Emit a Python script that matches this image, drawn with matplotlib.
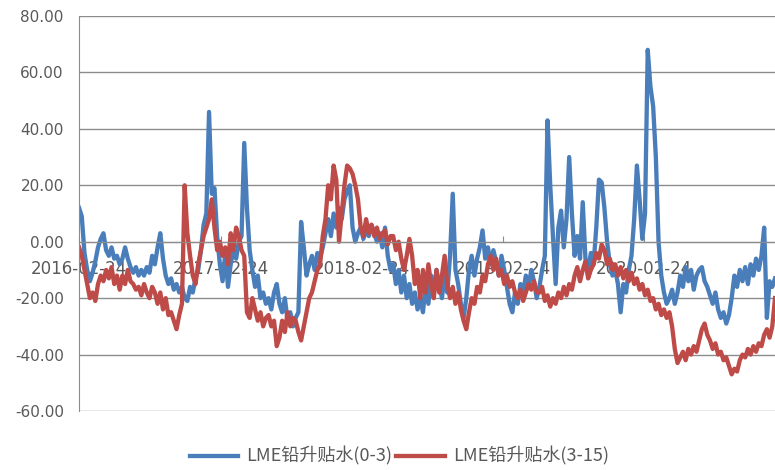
import matplotlib
matplotlib.use('Agg')
import matplotlib.pyplot as plt
from matplotlib.ticker import FormatStrFormatter
import pandas as pd

plt.rcParams['font.family'] = ['DejaVu Sans', 'Noto Sans CJK SC']

# weekly samples, starting 2016-02-24
start_date = '2016-02-24'

spread_0_3 = [
    12, 9, -4, -10, -14, -11, -7, -2, 1, 3,
    -3, -5, -2, -6, -5, -8, -6, -2, -6, -9,
    -11, -9, -12, -10, -12, -9, -11, -5, -8, -2,
    3, -6, -12, -15, -13, -17, -15, -18, -16, -20,
    -21, -16, -18, -13, -10, -3, 6, 10, 46, 17,
    19, 2, -8, -14, -4, -16, -8, -3, -6, 0,
    2, 35, 12, -3, -10, -16, -12, -20, -18, -22,
    -20, -24, -18, -15, -22, -25, -20, -28, -25, -30,
    -27, -25, 7, -2, -12, -8, -5, -10, -4, -6,
    -2, 3, 8, 2, 10, 5, 12, 8, 15, 18,
    20, 5, 0, 3, 5, 1, 4, 2, 6, 3,
    0, 3, -2, 5, -5, -10, -8, -15, -10, -18,
    -12, -20, -15, -22, -18, -24, -20, -25, -15, -22,
    -12, -18, -10, -15, -20, -12, -18, -5, 17, -10,
    -15, -22, -27, -20, -10, -5, -12, -6, -2, 4,
    -6, -2, -8, -3, -7, -12, -5, -10, -16, -22,
    -25, -18, -22, -15, -18, -12, -16, -10, -14, -20,
    -16, -10, -5, 43, 20, 2, -15, 5, 11, -2,
    8, 30, 10, -5, 2, -6, 14, -6, -10, -4,
    -8, 5, 22, 21, 12, 0, -8, -12, -10, -15,
    -25, -15, -18, -10, -5, 8, 27, 15, 1, 10,
    68, 55, 48, 30, 0, -12, -18, -22, -20, -17,
    -22, -18, -12, -16, -9, -14, -10, -17, -12, -10,
    -9, -14, -16, -19, -22, -18, -24, -27, -25, -29,
    -26, -20, -12, -16, -10, -14, -9, -15, -8, -12,
    -6, -10, -5, 5, -27, -14, -16, -13,
]

spread_3_15 = [
    -2, -5, -10, -15, -20, -18, -21, -15, -12, -14,
    -10, -13, -9, -15, -12, -17, -12, -15, -10, -14,
    -15, -17, -16, -19, -15, -18, -20, -16, -18, -22,
    -18, -24, -20, -26, -25, -28, -31, -26, -22, 20,
    3, -5, -12, -15, -8, -3, 2, 5, 8, 15,
    5, -3, 0, -5, -2, -8, 3, -3, 5, 2,
    -3, -5, -25, -27, -20, -24, -28, -25, -30, -27,
    -26, -30, -28, -37, -34, -28, -32, -25, -30, -27,
    -28, -32, -35, -30, -25, -20, -18, -14, -10, -8,
    2, 8, 20, 15, 27, 22, 0, 10, 20, 27,
    26, 24, 20, 15, 5, 2, 8, 3, 6, 2,
    5, 1, 3, 4, -1, 2, 2, -3, 0, -6,
    -10, -5, 1, -5, -15, -10, -20, -10, -18, -8,
    -15, -20, -10, -18, -12, -5, -15, -20, -16, -22,
    -18, -24, -28, -31, -25, -20, -22, -16, -18, -12,
    -14, -8, -5, -10, -6, -12, -10, -15, -12, -16,
    -14, -18, -20, -17, -21, -18, -15, -17, -14, -18,
    -18, -16, -21, -19, -23, -20, -22, -18, -20, -16,
    -19, -15, -17, -12, -9, -14, -10, -7, -13, -10,
    -8, -4, -6, -1, -3, -8, -6, -10, -8, -12,
    -9, -13, -10, -14, -11, -15, -13, -17, -15, -19,
    -17, -21, -20, -24, -22, -26, -24, -27, -25, -30,
    -38, -43, -41, -39, -42, -38, -40, -37, -39, -35,
    -31, -29, -33, -35, -38, -36, -40, -39, -42, -41,
    -44, -47, -45, -46, -42, -40, -41, -38, -40, -37,
    -39, -36, -37, -33, -31, -34, -30, -20,
]

tick_dates = ['2016-02-24', '2017-02-24', '2018-02-24', '2019-02-24', '2020-02-24']
series_names = ['LME铅升贴水(0-3)', 'LME铅升贴水(3-15)']

dates = pd.date_range(start_date, periods=len(spread_0_3), freq='7D')

fig = plt.figure(figsize=(7.75, 4.7), dpi=100)
ax = fig.add_axes([0.102, 0.1255, 0.898, 0.8405])

ax.plot(dates, spread_0_3, color='#4A7EBB', lw=3.1, label=series_names[0])
ax.plot(dates, spread_3_15, color='#BE4B48', lw=3.1, label=series_names[1])

ax.set_ylim(-60, 80)
ax.set_yticks(range(-60, 81, 20))
ax.yaxis.set_major_formatter(FormatStrFormatter('%.2f'))
ax.set_xlim(dates[0], dates[-1])

ax.grid(axis='y', color='#8C8C8C', lw=1)
ax.set_axisbelow(True)
for side in ['top', 'right']:
    ax.spines[side].set_visible(False)
ax.spines['left'].set_color('#8C8C8C')
ax.spines['bottom'].set_position(('data', 0))
ax.spines['bottom'].set_color('#8C8C8C')

ax.set_xticks(pd.to_datetime(tick_dates))
ax.set_xticklabels(tick_dates)
ax.tick_params(axis='x', direction='in', length=4, color='#8C8C8C', pad=13,
               labelsize=12, labelcolor='#595959')
ax.tick_params(axis='y', length=0, pad=11, labelsize=11, labelcolor='#595959')

ax.legend(loc='lower center', bbox_to_anchor=(0.46, -0.18), ncol=2, frameon=False,
          prop={'family': 'Noto Sans CJK SC', 'size': 13}, handlelength=2.7,
          handletextpad=0.45, columnspacing=0.2, labelcolor='#595959')

fig.savefig('out.png', dpi=100)
